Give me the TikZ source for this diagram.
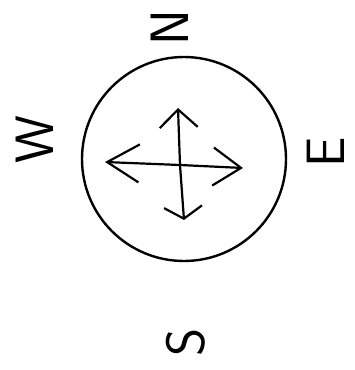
\documentclass[tikz,border=0pt]{standalone}
\usepackage{tikz}
\usetikzlibrary{arrows.meta}

\begin{document}
\begin{tikzpicture}[x=1pt,y=-1pt,line width=2.2pt,
    dirlabel/.style={font=\sffamily\fontsize{54}{54}\selectfont,rotate=90,inner sep=0pt},
    barb/.style={-{Straight Barb[length=#1,width=38pt,line width=2.2pt]}},
    barb/.default=22pt]
    \useasboundingbox (0,0) rectangle (354,370);

    % dial
    \node[draw,circle,minimum size=204pt,line width=2.4pt] (dial) at (184,159) {};

    % arrows from the middle
    \coordinate (mid) at (180,165);
    \coordinate (up) at (178,108);
    \coordinate (down) at (184,220);
    \coordinate (left) at (105,162);
    \coordinate (right) at (243,168);
    \draw[barb=18pt] (mid) -- (up);
    \draw[barb=12pt] (mid) -- (down);
    \draw[barb=32pt] (mid) -- (left);
    \draw[barb=28pt] (mid) -- (right);

    % directions
    \node[dirlabel] (north) at (170,28) {N};
    \node[dirlabel] (west) at (35,140) {W};
    \node[dirlabel] (east) at (326,152) {E};
    \node[dirlabel] (south) at (186,342) {S};
\end{tikzpicture}
\end{document}
